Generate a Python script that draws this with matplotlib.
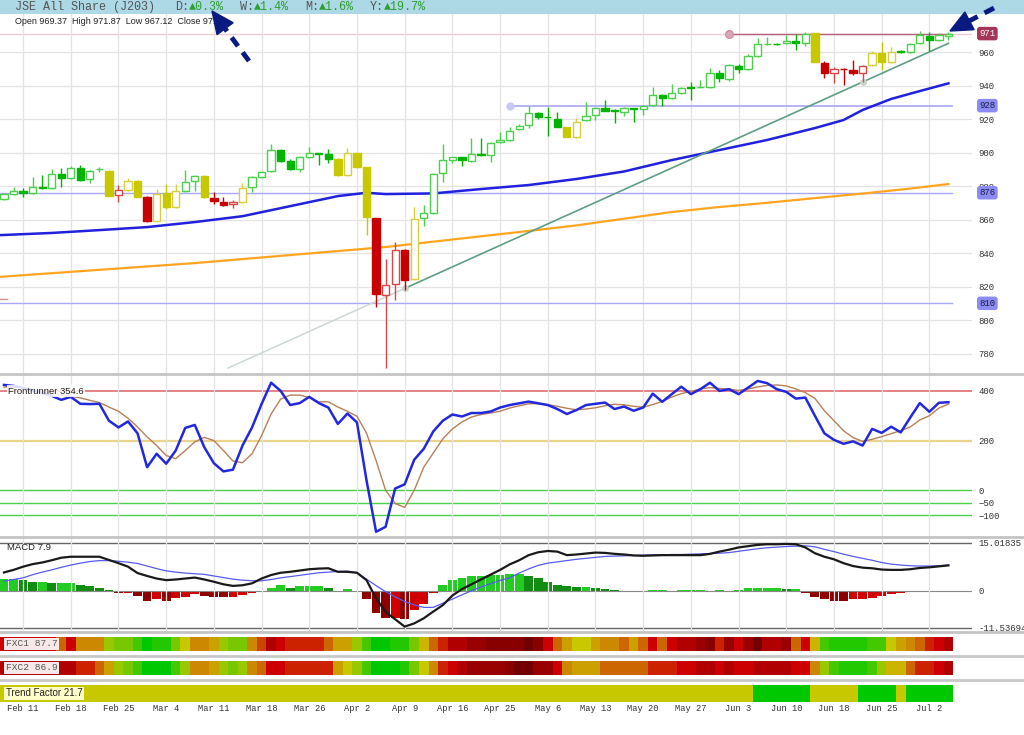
import numpy as np
import matplotlib
matplotlib.use("Agg")
from matplotlib import pyplot as plt
from matplotlib.patches import Rectangle, Polygon
from matplotlib.lines import Line2D

plt.rcParams['font.family'] = ['Liberation Sans', 'DejaVu Sans']
MONO = ['Liberation Mono', 'DejaVu Sans Mono']

W, H = 1024, 735

# ---------------- data ----------------
date_labels = ["Feb 11", "Feb 18", "Feb 25", "Mar 4", "Mar 11", "Mar 18", "Mar 26",
               "Apr 2", "Apr 9", "Apr 16", "Apr 25", "May 6", "May 13", "May 20",
               "May 27", "Jun 3", "Jun 10", "Jun 18", "Jun 25", "Jul 2"]
date_pos = list(range(2, 100, 5))

opens = [872.1, 875.2, 877.2, 875.6, 879.6, 878.6, 887.0, 884.6, 890.6, 884.0,
         890.0, 889.1, 874.6, 877.8, 883.0, 873.3, 859.4, 875.6, 867.6, 877.0,
         883.2, 886.0, 873.0, 870.6, 869.1, 870.5, 879.6, 885.2, 889.0, 901.5,
         895.1, 890.2, 897.5, 899.5, 899.1, 896.1, 886.6, 899.5, 891.2, 860.7,
         814.9, 821.3, 841.8, 824.7, 860.7, 864.1, 887.6, 895.5, 897.1, 895.1,
         899.1, 898.5, 906.1, 907.5, 913.9, 916.4, 923.4, 921.2, 920.0, 915.0,
         909.1, 919.4, 922.4, 926.4, 925.4, 924.0, 926.4, 925.8, 928.2, 934.3,
         932.4, 935.7, 938.9, 939.0, 939.3, 947.6, 943.7, 951.8, 949.7, 957.6,
         964.5, 964.8, 965.2, 966.7, 965.2, 971.2, 953.6, 947.3, 949.9, 949.3,
         947.6, 952.2, 959.2, 954.2, 960.4, 959.8, 965.6, 969.7, 967.2, 969.37]
highs = [876.0, 879.6, 878.6, 885.6, 886.6, 890.0, 890.6, 891.9, 892.5, 889.5,
         891.5, 889.5, 880.4, 885.0, 883.5, 873.8, 878.2, 881.2, 881.2, 889.6,
         886.5, 886.5, 876.5, 873.5, 871.5, 881.6, 886.0, 889.0, 905.1, 902.0,
         896.0, 898.0, 903.1, 900.0, 901.9, 897.0, 902.5, 900.0, 891.5, 861.0,
         836.2, 846.7, 842.5, 867.5, 868.7, 888.0, 905.1, 897.6, 897.6, 908.7,
         908.5, 906.0, 912.4, 915.0, 917.0, 927.8, 924.0, 927.4, 924.4, 915.5,
         920.4, 930.3, 927.0, 931.3, 925.8, 927.0, 926.8, 928.5, 939.3, 935.0,
         940.7, 939.0, 942.3, 943.3, 950.5, 949.0, 953.0, 953.0, 959.0, 968.5,
         969.0, 965.3, 970.0, 971.0, 972.0, 971.5, 954.5, 951.0, 950.5, 955.0,
         952.0, 960.5, 966.2, 963.0, 961.0, 965.5, 972.5, 972.0, 971.5, 971.87]
lows = [871.5, 874.8, 873.6, 875.0, 878.5, 878.0, 879.6, 884.0, 883.0, 882.0,
        888.5, 873.8, 870.3, 877.3, 873.2, 858.8, 859.0, 866.5, 867.0, 876.5,
        877.2, 873.0, 869.1, 868.0, 866.7, 870.0, 876.6, 884.8, 888.5, 894.5,
        889.8, 888.2, 897.0, 892.5, 893.5, 886.0, 886.0, 891.0, 850.7, 808.0,
        771.2, 811.9, 817.9, 824.0, 856.1, 863.5, 882.6, 893.9, 891.9, 894.5,
        898.0, 894.5, 905.5, 907.0, 913.5, 914.5, 920.0, 909.9, 915.0, 909.0,
        908.8, 919.0, 919.5, 924.5, 917.4, 922.0, 918.4, 922.5, 927.5, 927.5,
        932.0, 935.2, 931.3, 938.7, 938.5, 942.0, 942.5, 947.5, 949.0, 957.0,
        964.0, 964.0, 964.5, 961.5, 963.5, 953.8, 944.5, 941.5, 940.3, 946.5,
        942.3, 951.5, 949.0, 953.5, 959.5, 959.2, 964.8, 960.5, 966.5, 967.12]
closes = [875.2, 877.2, 876.0, 879.2, 879.0, 887.0, 884.6, 890.9, 883.6, 889.0,
          890.4, 874.2, 877.4, 883.2, 873.6, 859.3, 875.2, 867.6, 877.2, 882.2,
          886.0, 873.3, 871.1, 868.5, 870.6, 878.6, 885.2, 888.5, 901.5, 895.1,
          890.3, 897.5, 899.5, 899.0, 896.1, 886.6, 899.5, 891.5, 861.3, 815.5,
          820.9, 841.8, 823.9, 860.3, 863.7, 887.0, 895.5, 897.1, 895.5, 898.9,
          898.5, 905.5, 907.5, 913.0, 916.0, 923.4, 921.4, 921.0, 915.4, 909.4,
          918.4, 921.8, 926.4, 925.0, 924.6, 926.4, 925.8, 927.8, 934.3, 932.4,
          935.7, 938.3, 938.5, 939.3, 947.6, 944.3, 952.2, 949.7, 957.6, 964.8,
          964.8, 964.6, 966.7, 965.2, 970.7, 954.2, 947.3, 949.9, 949.6, 947.6,
          951.6, 959.2, 954.2, 960.2, 960.2, 964.8, 970.1, 967.2, 970.1, 971.0]
# candle colour codes (g = green, y = yellow, r = red)
candle_cols = ("ggggggggggg" + "y" + "r" + "yy" + "r" + "yyy" + "gg" + "y" + "rrr" + "y"
               + "ggggggggg" + "yyyy" + "rrrr" + "y" + "ggggggggggggggg" + "yy"
               + "gggggggggggggggggggggggg" + "y" + "rrrrr" + "yyy" + "gggggg")

# moving averages (index, value)
ma_blue_x = [-0.4, 5, 10, 15, 20, 25, 30, 35, 38, 40, 45, 50, 55, 60, 65, 70, 75, 80, 85, 88, 90, 93, 96, 99]
ma_blue_y = [850.7, 852.0, 853.7, 855.5, 858.5, 862.0, 868.0, 874.0, 876.0, 875.2, 875.6, 878.2,
             880.6, 884.2, 888.7, 895.5, 901.5, 907.5, 914.6, 919.4, 925.4, 932.0, 936.7, 941.3]
ma_orange_x = [-0.4, 10, 20, 30, 40, 50, 55, 60, 65, 70, 75, 80, 85, 90, 95, 99]
ma_orange_y = [825.8, 830.0, 834.0, 838.8, 843.6, 850.0, 853.2, 856.5, 860.5, 864.5, 867.5,
               870.0, 872.8, 875.5, 878.5, 881.2]
trend_x = [23.5, 42, 90, 99]
trend_y = [771.4, 818.9, 942.1, 965.2]

frontrunner = [424, 420, 412, 402, 392, 380, 364, 376, 348, 347,
               348, 280, 253, 277, 229, 93, 147, 107, 160, 251,
               263, 173, 109, 76, 83, 180, 253, 347, 433, 400,
               343, 351, 376, 351, 333, 267, 309, 273, 40, -167,
               -147, 7, 24, 123, 167, 237, 280, 305, 297, 311,
               311, 317, 333, 343, 350, 357, 350, 343, 327, 307,
               323, 343, 348, 353, 327, 337, 320, 333, 389, 356,
               387, 417, 387, 407, 433, 400, 407, 387, 413, 440,
               431, 407, 396, 369, 373, 300, 229, 203, 187, 197,
               180, 247, 231, 256, 233, 293, 351, 316, 352, 354.6]
fr_signal = [415, 418, 412, 405, 398, 392, 384, 378, 372, 362,
             353, 335, 318, 290, 255, 215, 180, 140, 127, 160,
             195, 213, 200, 160, 118, 111, 147, 220, 307, 367,
             383, 383, 373, 356, 356, 335, 318, 298, 230, 120,
             0, -53, -69, 0, 93, 150, 207, 247, 275, 295,
             305, 311, 318, 331, 340, 348, 349, 345, 338, 330,
             324, 327, 332, 340, 346, 344, 338, 334, 345, 358,
             375, 389, 398, 408, 413, 410, 407, 402, 408, 416,
             422, 424, 420, 408, 393, 370, 320, 280, 240, 212,
             197, 205, 216, 228, 240, 255, 283, 300, 331, 347]

macd_line = [5.7, 6.5, 7.5, 8.3, 8.8, 9.5, 10.3, 10.6, 10.6, 10.6,
             10.6, 9.6, 8.6, 7.5, 5.5, 4.6, 3.8, 3.3, 3.5, 3.8,
             4.1, 3.5, 2.8, 2.0, 1.5, 1.7, 2.3, 3.8, 4.9, 5.6,
             5.9, 6.3, 6.7, 6.9, 7.0, 5.9, 5.9, 5.6, 3.3, -2.4,
             -6.6, -8.9, -11.2, -10.2, -8.6, -6.5, -4.5, -1.5, 0.5, 2.0,
             3.5, 5.0, 6.5, 8.2, 9.5, 11.1, 12.0, 12.4, 12.2, 11.1,
             11.3, 11.6, 11.9, 11.8, 11.5, 11.3, 11.0, 10.9, 11.0, 11.1,
             11.1, 11.1, 11.1, 11.1, 11.5, 12.2, 12.8, 13.5, 13.9, 14.3,
             14.5, 14.5, 14.6, 14.5, 13.5, 11.7, 10.6, 9.8, 8.6, 7.7,
             7.2, 7.0, 6.6, 6.5, 6.5, 6.7, 7.1, 7.3, 7.6, 7.9]
macd_signal = [3.0, 3.5, 4.0, 5.0, 5.8, 6.5, 7.3, 8.0, 8.6, 9.1,
               9.4, 9.4, 9.2, 8.9, 8.5, 7.7, 6.9, 6.2, 5.8, 5.5,
               5.3, 5.1, 4.6, 4.1, 3.6, 3.3, 3.1, 3.1, 3.5, 4.0,
               4.4, 4.8, 5.2, 5.6, 5.8, 6.0, 6.1, 5.6, 3.6, 1.6,
               -0.3, -1.9, -3.4, -4.4, -5.2, -5.2, -3.9, -2.6, -1.3, 0.0,
               1.2, 2.2, 3.2, 4.0, 5.5, 6.8, 7.9, 8.6, 9.0, 9.4,
               9.8, 10.1, 10.4, 10.7, 10.8, 10.9, 11.0, 11.1, 11.2, 11.2,
               11.3, 11.3, 11.4, 11.5, 11.6, 11.7, 11.9, 12.3, 12.7, 13.1,
               13.4, 13.6, 13.8, 13.9, 14.0, 13.7, 12.9, 12.2, 11.4, 10.7,
               10.1, 9.5, 8.8, 8.3, 8.0, 7.8, 7.7, 7.7, 7.8, 8.0]
macd_hist = [3.5, 3.5, 3.3, 2.8, 2.8, 2.5, 2.5, 2.5, 1.8, 1.5,
             1.0, 0.2, -0.8, -0.8, -1.7, -3.1, -2.7, -3.1, -2.4, -1.9,
             -1.1, -1.6, -1.9, -2.1, -2.1, -1.4, -0.6, 0.0, 1.0, 1.7,
             1.0, 1.5, 1.5, 1.5, 0.9, 0.0, 0.4, -0.2, -2.6, -6.8,
             -8.6, -8.6, -8.7, -6.0, -4.0, -0.8, 1.7, 3.3, 4.1, 4.6,
             4.7, 4.9, 4.9, 5.1, 5.1, 4.6, 4.1, 2.8, 1.7, 1.5,
             1.1, 1.1, 0.8, 0.4, 0.1, 0.0, -0.2, 0.0, 0.2, 0.2,
             0.0, 0.2, 0.2, 0.2, 0.0, 0.3, 0.0, 0.3, 1.0, 1.0,
             1.0, 1.0, 0.6, 0.6, -0.6, -1.9, -2.7, -3.1, -3.3, -2.7,
             -2.7, -2.2, -1.7, -1.1, -0.6, -0.4, -0.2, -0.1, -0.1, 0.0]

# heat strips: level 0 (bright green) .. 16 (darkest red)
fxc1 = [12, 12, 12, 12, 12, 12, 9, 12, 8, 8, 8, 4, 3, 3, 2, 0, 1, 1, 3, 5,
        8, 8, 7, 4, 3, 3, 8, 10, 13, 12, 11, 11, 11, 11, 9, 7, 7, 4, 2, 0,
        0, 1, 1, 3, 6, 9, 11, 13, 13, 14, 14, 15, 15, 15, 15, 16, 15, 12, 9, 7,
        5, 5, 7, 8, 8, 9, 7, 9, 12, 9, 12, 13, 13, 14, 15, 11, 14, 12, 14, 16,
        13, 13, 14, 9, 12, 6, 2, 1, 1, 1, 1, 2, 2, 5, 7, 8, 9, 11, 12, 13]
fxc2 = [13, 13, 13, 13, 13, 13, 13, 13, 11, 11, 9, 7, 4, 3, 2, 0, 0, 0, 2, 4,
        8, 8, 7, 4, 3, 4, 8, 9, 12, 12, 11, 11, 11, 11, 11, 7, 5, 4, 2, 0,
        0, 0, 1, 3, 5, 8, 11, 12, 13, 14, 14, 14, 14, 15, 16, 16, 14, 14, 12, 8,
        7, 7, 7, 9, 9, 9, 9, 9, 11, 11, 11, 12, 12, 13, 13, 12, 13, 12, 12, 13,
        13, 13, 13, 12, 12, 8, 4, 2, 1, 1, 1, 2, 4, 6, 6, 9, 11, 11, 12, 13]
trend_runs = [(0, 79), (1, 6), (0, 5), (1, 4), (0, 1), (1, 5)]
trend = [v for v, n in trend_runs for _ in range(n)]

price_ticks = [780, 800, 820, 840, 860, 880, 900, 920, 940, 960]
levels = [971, 928, 876, 810]

# ---------------- style ----------------
HEAT = ['#00C800', '#22C800', '#44C800', '#77C800', '#99C800', '#C8C800', '#CCB400', '#CCA000',
        '#CC8800', '#CC6600', '#CC4400', '#CC2200', '#CC0000', '#B00000', '#990000', '#880000',
        '#730000']
GRID = '#E3E3E3'
TICKC = '#333333'
XLIM = (-0.42, 101.47)


def box(x0, y0, x1, y1):
    return [x0 / W, 1 - y1 / H, (x1 - x0) / W, (y1 - y0) / H]


def fx(x):
    return x / W


def fy(y):
    return 1 - y / H


def clean(ax):
    for s in ax.spines.values():
        s.set_visible(False)
    ax.set_xlim(*XLIM)
    ax.set_facecolor('none')


fig = plt.figure(figsize=(W / 100, H / 100), dpi=100)
fig.patch.set_facecolor('white')

# header band
fig.add_artist(Rectangle((0, fy(14)), 1, 14 / H, transform=fig.transFigure,
                         facecolor='#ADD8E6', edgecolor='none', zorder=0))
fig.text(fx(15), fy(7), "JSE All Share (J203)", family=MONO, fontsize=8.5,
         color='#555555', va='center')
for xpos, lab, val in [(175, "D:", "▲0.3%"), (240, "W:", "▲1.4%"),
                       (305, "M:", "▲1.6%"), (370, "Y:", "▲19.7%")]:
    fig.text(fx(xpos), fy(7), lab, family=MONO, fontsize=8.5, color='#555555', va='center')
    fig.text(fx(xpos + 14), fy(7), val, family=MONO, fontsize=8.5, color='#2E9E2E', va='center')

# ---------------- price panel ----------------
x = np.arange(len(opens))
ax = fig.add_axes(box(0, 14, 972, 373))
clean(ax)
ax.set_ylim(768.4, 982.7)
ax.set_xticks(date_pos)
ax.set_yticks(price_ticks)
ax.grid(True, color=GRID, lw=0.9, zorder=0)
ax.yaxis.tick_right()
ax.tick_params(axis='x', length=0, labelbottom=False)
ax.tick_params(axis='y', length=0, pad=4.5, labelsize=6.5, labelcolor=TICKC,
               labelfontfamily='Liberation Mono')

ax.axhline(971, color='#EDCCD6', lw=1, zorder=1)
ax.plot([76, 99.4], [971, 971], color='#B8607E', lw=1, zorder=2)
ax.plot(76, 971, 'o', ms=5.5, mfc='#D8A8B8', mec='#C890A4', zorder=2)
ax.plot([53, 99.4], [928, 928], color='#A8A8F4', lw=1.2, zorder=2)
ax.plot(53, 928, 'o', ms=6, mfc='#C8C8F4', mec='none', zorder=2)
for lv in (876, 810):
    ax.plot([XLIM[0], 99.4], [lv, lv], color='#A8A8F8', lw=1, zorder=2)
ax.plot([XLIM[0], 0.3], [812.5, 812.5], color='#E09090', lw=1, zorder=2)

ax.plot(ma_orange_x, ma_orange_y, color='#FFA520', lw=1.6, zorder=2)
ax.plot(ma_blue_x, ma_blue_y, color='#2020DD', lw=1.8, zorder=2)
ax.plot(trend_x[:2], trend_y[:2], color='#CCD8D2', lw=1.1, zorder=2)
ax.plot(trend_x[1:], trend_y[1:], color='#5E9E84', lw=1.2, zorder=2)
ax.plot(trend_x[1:3], trend_y[1:3], 'o', ms=5, mfc='#C8D4CC', mec='none', zorder=2)

edge_map = {'g': ('#4CCF4C', '#00B400'), 'y': ('#D6CE3C', '#C8C800'), 'r': ('#DD4646', '#C80000')}
for i in x:
    o, h, l, c = opens[i], highs[i], lows[i], closes[i]
    hollow = c >= o
    lite, dark = edge_map[candle_cols[i]]
    ec = lite if hollow else dark
    fc = 'white' if hollow else dark
    ax.vlines(i, l, h, color=ec, lw=1, zorder=3)
    lo, hi = min(o, c), max(o, c)
    ax.add_patch(Rectangle((i - 0.38, lo), 0.76, max(hi - lo, 0.35),
                           facecolor=fc, edgecolor=ec, lw=1, zorder=4))

lvl_style = {971: ('#A4365A', 'white')}
for lv in levels:
    bg, tc = lvl_style.get(lv, ('#8C8CF0', '#1A1A50'))
    ax.text(1.0075, lv, str(lv), transform=ax.get_yaxis_transform(), ha='left', va='center',
            fontsize=6.5, family=MONO, color=tc, zorder=10, clip_on=False,
            bbox=dict(boxstyle='round,pad=0.25,rounding_size=0.3', fc=bg, ec='none'))

fig.text(fx(15), fy(22), "Open 969.37  High 971.87  Low 967.12  Close 971",
         fontsize=6.5, color='#222222', va='center')

# ---------------- frontrunner panel ----------------
af = fig.add_axes(box(0, 374, 972, 537))
clean(af)
af.set_ylim(-188, 468)
af.set_xticks(date_pos)
af.xaxis.grid(True, color=GRID, lw=0.9, zorder=0)
af.axhline(400, color='#E47878', lw=1.3, zorder=1)
af.axhline(200, color='#E8D48A', lw=1.6, zorder=1)
for v in (0, -50, -100):
    af.axhline(v, color='#4CCF4C', lw=1, zorder=1)
af.plot(x, fr_signal, color='#B88058', lw=1, zorder=2)
af.plot(x, frontrunner, color='#2228DD', lw=1.8, zorder=3)
af.yaxis.tick_right()
af.set_yticks([400, 200, 0, -50, -100])
af.set_yticklabels(['400', '200', '0', '\u221250', '\u2212100'])
af.tick_params(axis='x', length=0, labelbottom=False)
af.tick_params(axis='y', length=0, pad=4.5, labelsize=6.5, labelcolor=TICKC,
               labelfontfamily='Liberation Mono')
fig.text(fx(8), fy(391), "Frontrunner 354.6", fontsize=6.8, color='#222222', va='center',
         bbox=dict(fc='white', ec='none', alpha=0.85, pad=1))

# ---------------- MACD panel ----------------
am = fig.add_axes(box(0, 537, 972, 631))
clean(am)
am.set_ylim(-12.57, 16.76)
am.set_xticks(date_pos)
am.xaxis.grid(True, color=GRID, lw=0.9, zorder=0)
hcols = []
for i, v in enumerate(macd_hist):
    prev = macd_hist[i - 1] if i else v
    if v >= 0:
        hcols.append('#22CC22' if v >= prev else '#118E11')
    else:
        hcols.append('#8E0000' if v < prev else '#D00000')
am.bar(x, macd_hist, width=0.92, color=hcols, lw=0, zorder=1)
am.axhline(0, color='#888888', lw=0.8, zorder=1)
am.axhline(15.01835, color='#666666', lw=1, zorder=1)
am.axhline(-11.53694, color='#666666', lw=1, zorder=1)
am.plot(x, macd_signal, color='#5A5AEE', lw=0.9, zorder=2)
am.plot(x, macd_line, color='#1A1A1A', lw=1.6, zorder=3)
am.yaxis.tick_right()
am.set_yticks([15.01835, 0, -11.53694])
am.set_yticklabels(['15.01835', '0', '-11.53694'])
am.tick_params(axis='x', length=0, labelbottom=False)
am.tick_params(axis='y', length=0, pad=4.5, labelsize=6.5, labelcolor=TICKC,
               labelfontfamily='Liberation Mono')
fig.text(fx(7), fy(548), "MACD 7.9", fontsize=6.8, color='#222222', va='center')

# ---------------- heat strips ----------------
strips = [((637, 651), fxc1, "FXC1 87.7"), ((661, 675), fxc2, "FXC2 86.9")]
for (y0, y1), lv, lab in strips:
    s = fig.add_axes(box(0, y0, 972, y1))
    clean(s)
    s.set_ylim(0, 1)
    s.bar(x, 1, width=1.0, bottom=0, color=[HEAT[k] for k in lv], lw=0)
    s.set_xticks([])
    s.set_yticks([])
    fig.text(fx(6), fy((y0 + y1) / 2), lab, family=MONO, fontsize=6.8, color='#555555',
             va='center', bbox=dict(fc='#F6E8E8', ec='none', pad=1.2))

at = fig.add_axes(box(0, 685, 972, 702))
clean(at)
at.set_ylim(0, 1)
at.bar(x, 1, width=1.0, color=['#00C800' if t else '#C8C800' for t in trend], lw=0)
at.set_yticks([])
at.set_xticks(date_pos)
at.set_xticklabels(date_labels, family=MONO, fontsize=6.3, color=TICKC)
at.tick_params(axis='x', length=0, pad=1.5)
fig.text(fx(6), fy(693.5), "Trend Factor 21.7", fontsize=7, color='#222222', va='center',
         bbox=dict(fc='#FFFFC8', ec='none', pad=1.2))

# separators
for yy, col, lw in [(373.5, '#C4C4C4', 2), (536.5, '#C4C4C4', 2), (631.5, '#C4C4C4', 2),
                    (655.5, '#C8C8C8', 2), (679.5, '#C8C8C8', 2)]:
    fig.add_artist(Line2D([0, 1], [fy(yy), fy(yy)], transform=fig.transFigure,
                          color=col, lw=lw))


# ---------------- arrows ----------------
def dash_arrow(tail, tip, col='#0A1A80'):
    t = np.array(tail, float)
    p = np.array(tip, float)
    u = (p - t) / np.hypot(*(p - t))
    n = np.array([-u[1], u[0]])
    base = p - u * 22
    fig.add_artist(Line2D([fx(t[0]), fx(base[0])], [fy(t[1]), fy(base[1])],
                          transform=fig.transFigure, color=col, lw=3.5,
                          linestyle=(0, (2.2, 1.6)), zorder=20))
    pts = [p, base + n * 10, base - n * 10]
    fig.add_artist(Polygon([[fx(q[0]), fy(q[1])] for q in pts], closed=True,
                           transform=fig.transFigure, fc=col, ec=col, zorder=20))


dash_arrow((249, 61), (212, 11))
dash_arrow((994, 8), (950, 31))

fig.savefig("out.png", dpi=100)
